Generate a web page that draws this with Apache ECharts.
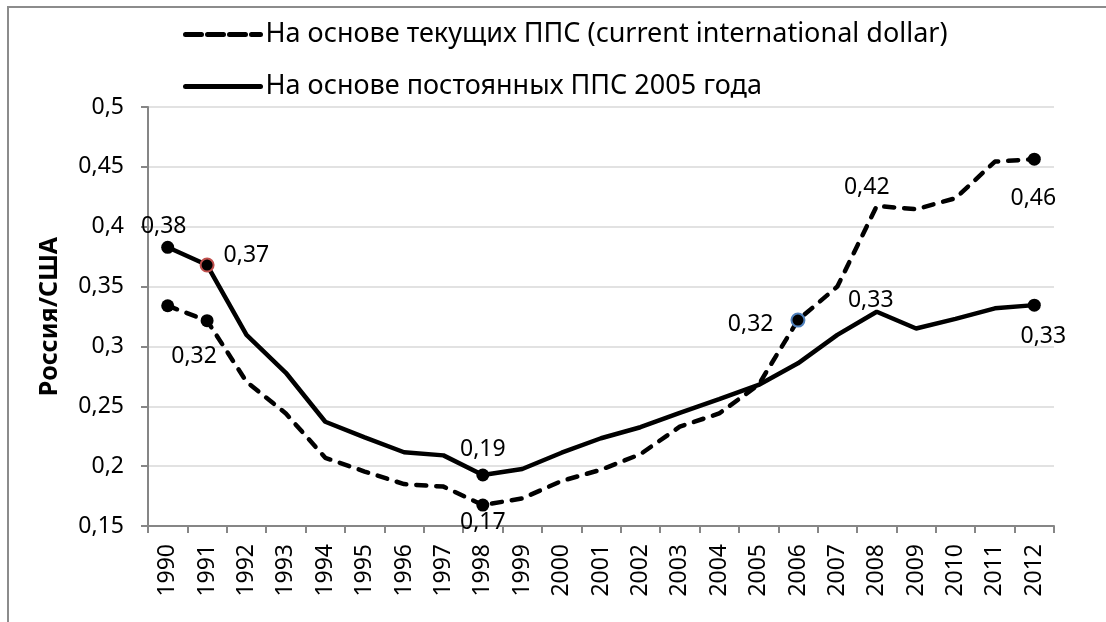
<!DOCTYPE html>
<html>
<head>
<meta charset="utf-8">
<script src="https://cdn.jsdelivr.net/npm/echarts@6/dist/echarts.min.js"></script>
<style>
  html, body { margin: 0; padding: 0; background: #fff; }
  #chart { width: 1106px; height: 622px; }
</style>
</head>
<body>
<div id="chart"></div>
<script>
// годы и значения
const years = ['1990', '1991', '1992', '1993', '1994', '1995', '1996', '1997', '1998', '1999', '2000',
  '2001', '2002', '2003', '2004', '2005', '2006', '2007', '2008', '2009', '2010', '2011', '2012']
const currentPpp = [0.334, 0.3215, 0.2705, 0.244, 0.207, 0.1955, 0.185, 0.1829, 0.1675, 0.173, 0.1876,
  0.197, 0.21, 0.233, 0.244, 0.268, 0.322, 0.35, 0.4173, 0.4146, 0.4238, 0.4544, 0.4564]
const constPpp = [0.3828, 0.368, 0.3096, 0.278, 0.2371, 0.224, 0.2116, 0.209, 0.1926, 0.1976, 0.2112,
  0.2233, 0.2325, 0.2445, 0.2559, 0.2678, 0.2859, 0.3096, 0.329, 0.315, 0.323, 0.3318, 0.3345]
const yTicks = { min: 0.15, max: 0.5, step: 0.05 }
const seriesNames = ['На основе текущих ППС (current international dollar)', 'На основе постоянных ППС 2005 года']

const FONT = 'Noto Sans'
const fmt = v => (Math.round(v * 100) / 100).toString().replace('.', ',')

// точки с маркерами и подписями: индекс -> оформление
const currentMarks = {
  0: { dot: true },
  1: { dot: true, pos: 'bottom', off: [-13, 13] },
  8: { dot: true, pos: 'bottom', off: [0, -6] },
  16: { dot: true, border: '#4f81bd', pos: 'left', off: [-12, 4] },
  18: { dot: false, pos: 'top', off: [-10, -2] },
  22: { dot: true, pos: 'bottom', off: [-1, 16] }
}
const constMarks = {
  0: { dot: true, pos: 'top', off: [-4, 2] },
  1: { dot: true, border: '#c0504d', pos: 'right', off: [4, -10] },
  8: { dot: true, pos: 'top', off: [0, -3] },
  18: { dot: false, pos: 'top', off: [-6, 5] },
  22: { dot: true, pos: 'bottom', off: [9, 8] }
}

function buildData(values, marks) {
  return values.map((v, i) => {
    const m = marks[i]
    if (!m) return v
    const item = {
      value: v,
      symbol: 'circle',
      symbolSize: m.dot ? 13 : 0,
      itemStyle: { color: '#000', borderColor: m.border || '#000', borderWidth: m.border ? 2 : 0 }
    }
    if (m.pos) {
      item.label = {
        show: true,
        position: m.pos,
        offset: m.off,
        formatter: p => fmt(p.value),
        fontFamily: FONT,
        fontSize: 23,
        color: '#000'
      }
    }
    return item
  })
}

const chart = echarts.init(document.getElementById('chart'), null, { renderer: 'canvas' })
const option = {
  backgroundColor: '#fff',
  animation: false,
  textStyle: { fontFamily: FONT },
  graphic: [
    {
      type: 'rect',
      shape: { x: 8, y: 7, width: 1300, height: 800 },
      style: { fill: null, stroke: '#8c8c8c', lineWidth: 2 },
      silent: true
    }
  ],
  legend: {
    orient: 'vertical',
    left: 183,
    top: 21,
    padding: 0,
    itemWidth: 75,
    itemHeight: 14,
    itemGap: 25,
    itemStyle: { color: 'transparent', borderWidth: 0, opacity: 0 },
    textStyle: { fontFamily: FONT, fontSize: 27, color: '#000', lineHeight: 27 },
    data: [
      { name: seriesNames[0], lineStyle: { color: '#000', width: 5, type: [16, 6], cap: 'round' } },
      { name: seriesNames[1], lineStyle: { color: '#000', width: 5, cap: 'round' } }
    ]
  },
  grid: { left: 148, right: 52, top: 107, bottom: 96, containLabel: false },
  xAxis: {
    type: 'category',
    data: years,
    boundaryGap: true,
    axisLine: { lineStyle: { color: '#868686', width: 2 } },
    axisTick: { show: true, length: 7, alignWithLabel: false, lineStyle: { color: '#868686', width: 2 } },
    axisLabel: { rotate: 90, margin: 18, fontSize: 23, color: '#000', fontFamily: FONT, interval: 0 }
  },
  yAxis: {
    type: 'value',
    min: yTicks.min,
    max: yTicks.max,
    interval: yTicks.step,
    name: 'Россия/США',
    nameLocation: 'middle',
    nameGap: 86,
    nameTextStyle: { fontFamily: FONT, fontSize: 25, fontWeight: 'bold', color: '#000' },
    axisLine: { show: true, lineStyle: { color: '#868686', width: 2 } },
    axisTick: { show: true, length: 7, lineStyle: { color: '#868686', width: 2 } },
    axisLabel: { margin: 24, fontSize: 23, color: '#000', fontFamily: FONT, formatter: v => fmt(v) },
    splitLine: { show: true, lineStyle: { color: '#d9d9d9', width: 1.5 } }
  },
  series: [
    {
      name: seriesNames[0],
      type: 'line',
      symbol: 'none',
      showAllSymbol: true,
      data: buildData(currentPpp, currentMarks),
      lineStyle: { color: '#000', width: 4.5, type: [10, 10], cap: 'round' },
      itemStyle: { color: '#000' },
      z: 3
    },
    {
      name: seriesNames[1],
      type: 'line',
      symbol: 'none',
      showAllSymbol: true,
      data: buildData(constPpp, constMarks),
      lineStyle: { color: '#000', width: 4.5 },
      itemStyle: { color: '#000' },
      z: 2
    }
  ]
}
chart.setOption(option)
window.onresize = () => {
  chart.resize()
}
</script>
</body>
</html>
